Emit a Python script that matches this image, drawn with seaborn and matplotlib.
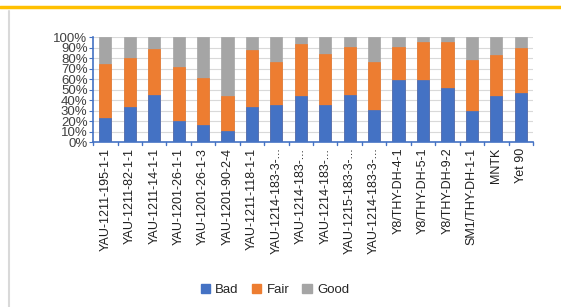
import numpy as np
import pandas as pd
import matplotlib
matplotlib.use("Agg")
import matplotlib.pyplot as plt
import seaborn as sns
from matplotlib.lines import Line2D
from matplotlib.patches import Patch

categories = ["YAU-1211-195-1-1", "YAU-1211-82-1-1", "YAU-1211-14-1-1", "YAU-1201-26-1-1",
              "YAU-1201-26-1-3", "YAU-1201-90-2-4", "YAU-1211-118-1-1", "YAU-1214-183-3-...",
              "YAU-1214-183-...", "YAU-1214-183-...", "YAU-1215-183-3-...", "YAU-1214-183-3-...",
              "Y8/THY-DH-4-1", "Y8/THY-DH-5-1", "Y8/THY-DH-9-2", "SM1/THY-DH-1-1", "MNTK", "Yet 90"]
bad = [23, 33, 45, 20, 16, 11, 33, 35, 44, 35, 45, 31, 59, 59, 52, 30, 44, 47]
fair = [51, 47, 44, 52, 45, 33, 55, 41, 49, 49, 46, 45, 32, 36, 43, 48, 39, 43]
good = [100 - b - f for b, f in zip(bad, fair)]
series = ["Bad", "Fair", "Good"]
colors = ["#4472C4", "#ED7D31", "#A5A5A5"]

df = pd.DataFrame({"cat": categories, "Bad": bad, "Fair": fair, "Good": good})
df["top_fair"] = df["Bad"] + df["Fair"]
df["top_good"] = df["top_fair"] + df["Good"]
# barplot needs unique x values; truncated names repeat
df["key"] = [str(i) for i in range(len(df))]

sns.set_style("white")
plt.rcParams["font.family"] = ["Liberation Sans", "DejaVu Sans"]

fig = plt.figure(figsize=(5.61, 3.07), dpi=100)
ax = fig.add_axes([0.166, 0.537, 0.784, 0.342])

# cumulative stacking, drawn back to front
for col, c in zip(["top_good", "top_fair", "Bad"], colors[::-1]):
    sns.barplot(data=df, x="key", y=col, color=c, width=0.5, ax=ax,
                edgecolor=c, linewidth=0.5, saturation=1)

ax.set_ylim(0, 100)
ax.set_xlim(-0.5, len(df) - 0.5)
ax.set_yticks(np.arange(0, 101, 10))
ax.set_yticklabels([f"{v}%" for v in range(0, 101, 10)], fontsize=9.5, color="#404040")
ax.set_xticks(range(len(df)))
ax.set_xticklabels(categories, rotation=90, fontsize=9, color="#202020")
ax.set_xlabel("")
ax.set_ylabel("")
ax.yaxis.grid(True, color="#D9D9D9", linewidth=0.8)
ax.set_axisbelow(True)
for s in ["top", "right"]:
    ax.spines[s].set_visible(False)
for s in ["left", "bottom"]:
    ax.spines[s].set_color("#4472C4")
    ax.spines[s].set_linewidth(1.2)
ax.tick_params(axis="y", length=3, color="#4472C4", pad=1, left=True)
ax.tick_params(axis="x", length=0, pad=4)
for i in range(len(df) + 1):
    ax.plot([i - 0.5, i - 0.5], [0, -3], color="#4472C4", lw=1, clip_on=False)

handles = [Patch(color=c, label=s) for s, c in zip(series, colors)]
fig.legend(handles=handles, loc="center", bbox_to_anchor=(0.49, 0.055), ncol=3,
           frameon=False, fontsize=9.5, handlelength=0.7, handleheight=0.7,
           handletextpad=0.4, columnspacing=1.0)

# page decorations around the pasted chart
fig.add_artist(Line2D([0, 1], [0.977, 0.977], color="#FFC000", lw=2.5))
fig.add_artist(Line2D([0.016, 0.016], [0, 0.965], color="#D9D9D9", lw=1.5))

fig.savefig("out.png", dpi=100)
